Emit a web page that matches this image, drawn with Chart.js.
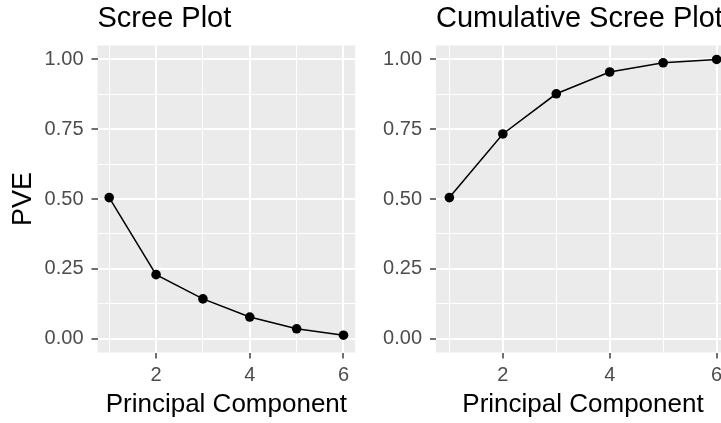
<!DOCTYPE html>
<html>
<head>
<meta charset="utf-8">
<script src="https://cdn.jsdelivr.net/npm/chart.js@4"></script>
<style>
  html, body { margin: 0; padding: 0; background: #ffffff; overflow: hidden; }
  body { width: 721px; height: 423px; position: relative; }
  canvas { position: absolute; top: 0; }
</style>
</head>
<body>
<canvas id="screeChart" width="360" height="423" style="left:0px"></canvas>
<canvas id="cumChart" width="380" height="423" style="left:360px"></canvas>
<script>
// Principal components and proportion of variance explained
const components = [1, 2, 3, 4, 5, 6];
const pve = [0.505, 0.229, 0.142, 0.077, 0.035, 0.012];
const cumulativePve = [0.505, 0.733, 0.877, 0.955, 0.988, 1.0];

// ggplot style breaks
const xBreaks = [2, 4, 6];
const xLabels = ['2', '4', '6'];
const xMinorBreaks = [1, 3, 5];
const yBreaks = [0, 0.25, 0.5, 0.75, 1];
const yLabels = ['0.00', '0.25', '0.50', '0.75', '1.00'];
const yMinorBreaks = [0.125, 0.375, 0.625, 0.875];

const FONT = "'Liberation Sans', Arial, sans-serif";

// grey panel behind the plot area
const panelBg = {
    id: 'panelBg',
    beforeDraw(chart) {
        const { ctx, chartArea: a } = chart;
        ctx.save();
        ctx.fillStyle = '#EBEBEB';
        ctx.fillRect(a.left, a.top, a.width, a.height);
        ctx.restore();
    }
};

function makeChart(canvasId, title, values, opts) {
    const ctx = document.getElementById(canvasId).getContext('2d');
    return new Chart(ctx, {
        type: 'line',
        data: {
            datasets: [{
                data: components.map((c, i) => ({ x: c, y: values[i] })),
                borderColor: '#000000',
                borderWidth: 1.5,
                backgroundColor: '#000000',
                pointRadius: 4.8,
                pointBorderWidth: 0,
                pointBackgroundColor: '#000000',
                tension: 0
            }]
        },
        plugins: [panelBg],
        options: {
            responsive: false,
            animation: false,
            events: [],
            layout: { padding: { left: 0, right: opts.padRight, top: 0, bottom: 0 } },
            plugins: {
                legend: { display: false },
                tooltip: { enabled: false },
                title: {
                    display: true,
                    text: title,
                    align: 'start',
                    fullSize: false,
                    color: '#000000',
                    font: { family: FONT, size: 29, weight: 'normal' },
                    padding: { top: 2, bottom: 8.7 }
                }
            },
            scales: {
                x: {
                    type: 'linear',
                    min: 0.75,
                    max: 6.25,
                    afterBuildTicks: (s) => {
                        s.ticks = xMinorBreaks.concat(xBreaks).sort((a, b) => a - b).map(v => ({ value: v }));
                    },
                    afterFit: (s) => { s.height = 70.5; },
                    border: { display: false },
                    grid: {
                        color: '#FFFFFF',
                        lineWidth: (c) => xBreaks.includes(c.tick.value) ? 2 : 1,
                        tickLength: 6,
                        tickWidth: 1.4,
                        tickColor: (c) => xBreaks.includes(c.tick.value) ? '#333333' : 'rgba(0,0,0,0)'
                    },
                    ticks: {
                        autoSkip: false,
                        maxRotation: 0,
                        padding: 5,
                        color: '#4D4D4D',
                        font: { family: FONT, size: 20 },
                        callback: (v) => {
                            const i = xBreaks.indexOf(v);
                            return i >= 0 ? xLabels[i] : '';
                        }
                    },
                    title: {
                        display: true,
                        text: 'Principal Component',
                        color: '#000000',
                        font: { family: FONT, size: 26 },
                        padding: { top: 0, bottom: 3 }
                    }
                },
                y: {
                    min: -0.05,
                    max: 1.05,
                    afterBuildTicks: (s) => {
                        s.ticks = yMinorBreaks.concat(yBreaks).sort((a, b) => a - b).map(v => ({ value: v }));
                    },
                    afterFit: (s) => { s.width = opts.yWidth; },
                    border: { display: false },
                    grid: {
                        color: '#FFFFFF',
                        lineWidth: (c) => yBreaks.includes(c.tick.value) ? 2 : 1,
                        tickLength: 6,
                        tickWidth: 1.4,
                        tickColor: (c) => yBreaks.includes(c.tick.value) ? '#333333' : 'rgba(0,0,0,0)'
                    },
                    ticks: {
                        autoSkip: false,
                        padding: 8,
                        color: '#4D4D4D',
                        font: { family: FONT, size: 20 },
                        callback: (v) => {
                            const i = yBreaks.indexOf(v);
                            return i >= 0 ? yLabels[i] : '';
                        }
                    },
                    title: {
                        display: opts.yTitle,
                        text: 'PVE',
                        color: '#000000',
                        font: { family: FONT, size: 27 },
                        padding: { top: 7, bottom: 0 }
                    }
                }
            }
        }
    });
}

makeChart('screeChart', 'Scree Plot', pve, { yWidth: 97.5, padRight: 3, yTitle: true });
makeChart('cumChart', 'Cumulative Scree Plot', cumulativePve, { yWidth: 76, padRight: 10, yTitle: false });
</script>
</body>
</html>
